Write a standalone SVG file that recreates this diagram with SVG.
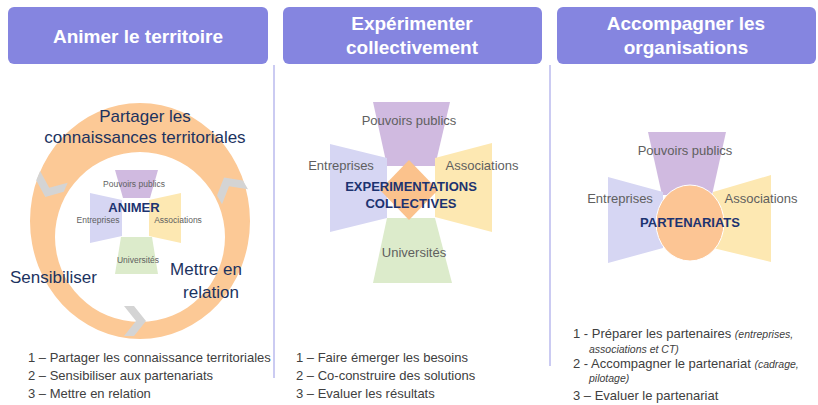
<svg xmlns="http://www.w3.org/2000/svg" width="818" height="405" viewBox="0 0 818 405">
<defs>
<style>
.hdr{fill:#8585E0;}
.ht{font-family:"Liberation Sans",Arial,sans-serif;font-size:19px;font-weight:bold;fill:#FFFFFF;text-anchor:middle;}
.sep{stroke:#CBCBF2;stroke-width:2;}
.ring{font-family:"Liberation Sans",Arial,sans-serif;font-size:17px;fill:#1C335F;}
.lbl{font-family:"Liberation Sans",Arial,sans-serif;fill:#5F5F5F;text-anchor:middle;}
.bold{font-family:"Liberation Sans",Arial,sans-serif;font-weight:bold;fill:#1C3370;text-anchor:middle;}
.lst{font-family:"Liberation Sans",Arial,sans-serif;font-size:13px;fill:#404040;}
.it{font-style:italic;font-size:10.5px;}
.pp{fill:#D0BAE0;}
.en{fill:#D6D6F3;}
.as{fill:#FDE8B2;}
.un{fill:#DCEBCB;}
.chev{fill:#D4D4D4;}
</style>
<polygon id="chev" points="-10,-15 0,-15 12,0 0,15 -10,15 2,0"/>
</defs>

<g id="headers">
<g id="h1"><rect class="hdr" x="8" y="7" width="260" height="57" rx="6"/><text class="ht" x="138" y="43">Animer le territoire</text></g>
<g id="h2"><rect class="hdr" x="283" y="7" width="259" height="57" rx="6"/><text class="ht" x="412" y="30">Expérimenter</text><text class="ht" x="412" y="54">collectivement</text></g>
<g id="h3"><rect class="hdr" x="557" y="7" width="259" height="57" rx="6"/><text class="ht" x="686" y="30">Accompagner les</text><text class="ht" x="686" y="54">organisations</text></g>
</g>

<g id="separators">
<line class="sep" x1="274" y1="65" x2="274" y2="378"/>
<line class="sep" x1="550" y1="65" x2="550" y2="366"/>
</g>

<g id="cycle">
<path fill="#FCC996" fill-rule="evenodd" d="M30,221 A110,118 0 1,0 250,221 A110,118 0 1,0 30,221 Z M55,237 A85,85 0 1,0 225,237 A85,85 0 1,0 55,237 Z"/>
<use href="#chev" class="chev" transform="translate(134,321)"/>
<use href="#chev" class="chev" transform="translate(230,188) rotate(240)"/>
<use href="#chev" class="chev" transform="translate(50,186) rotate(113)"/>
<text class="ring" x="145" y="122" text-anchor="middle">Partager les</text>
<text class="ring" x="145" y="143" text-anchor="middle">connaissances territoriales</text>
<text class="ring" x="10" y="283">Sensibiliser</text>
<text class="ring" x="206" y="275" text-anchor="middle">Mettre en</text>
<text class="ring" x="211" y="298" text-anchor="middle">relation</text>
</g>

<g id="animer">
<polygon class="pp" points="115,170 158,170 150,198 123,198"/>
<polygon class="en" points="90,193 122,200 122,236 90,243"/>
<polygon class="as" points="149,200 181,193 181,243 149,236"/>
<polygon class="un" points="121,237 152,237 158,274 115,274"/>
<text class="lbl" x="134" y="187" font-size="8.5">Pouvoirs publics</text>
<text class="bold" x="134" y="212" font-size="13">ANIMER</text>
<text class="lbl" x="98" y="223" font-size="8.5">Entreprises</text>
<text class="lbl" x="178" y="223" font-size="8.5">Associations</text>
<text class="lbl" x="138" y="263" font-size="8.5">Universités</text>
</g>

<g id="experimentations">
<polygon class="pp" points="373,102 450,102 435,166 387,166"/>
<polygon class="en" points="330,144 387,158 387,218 330,232"/>
<polygon class="as" points="435,158 492,143 492,232 435,217"/>
<polygon class="un" points="387,218 435,218 452,283 373,283"/>
<polygon fill="#FBC28C" points="409,160 438,190 409,220 380,190"/>
<text class="lbl" x="409" y="125" font-size="13">Pouvoirs publics</text>
<text class="lbl" x="341" y="170" font-size="13">Entreprises</text>
<text class="lbl" x="482" y="170" font-size="13">Associations</text>
<text class="bold" x="411" y="191" font-size="13">EXPERIMENTATIONS</text>
<text class="bold" x="411" y="208" font-size="13">COLLECTIVES</text>
<text class="lbl" x="414" y="257" font-size="13">Universités</text>
</g>

<g id="partenariats">
<polygon class="pp" points="648,132 726,132 712,195 662,195"/>
<polygon class="en" points="608,177 663,192 663,248 608,263"/>
<polygon class="as" points="713,192 771,175 771,262 713,248"/>
<ellipse cx="690" cy="223" rx="34" ry="38" fill="#FCC594" stroke="#FFFFFF" stroke-width="1"/>
<text class="lbl" x="685" y="155" font-size="13">Pouvoirs publics</text>
<text class="lbl" x="620" y="203" font-size="13">Entreprises</text>
<text class="lbl" x="761" y="203" font-size="13">Associations</text>
<text class="bold" x="690" y="227" font-size="13">PARTENARIATS</text>
</g>

<g id="list1">
<text class="lst" x="28" y="362">1 – Partager les connaissance territoriales</text>
<text class="lst" x="28" y="380">2 – Sensibiliser aux partenariats</text>
<text class="lst" x="28" y="398">3 – Mettre en relation</text>
</g>
<g id="list2">
<text class="lst" x="296" y="362">1 – Faire émerger les besoins</text>
<text class="lst" x="296" y="380">2 – Co-construire des solutions</text>
<text class="lst" x="296" y="398">3 – Evaluer les résultats</text>
</g>
<g id="list3">
<text class="lst" x="573" y="338" font-size="12.5">1 - Préparer les partenaires <tspan class="it">(entreprises,</tspan></text>
<text class="lst it" x="589" y="353">associations et CT)</text>
<text class="lst" x="573" y="368" font-size="12.5">2 -  Accompagner le partenariat <tspan class="it">(cadrage,</tspan></text>
<text class="lst it" x="589" y="382">pilotage)</text>
<text class="lst" x="573" y="400" font-size="12.5">3 – Evaluer le partenariat</text>
</g>
</svg>
